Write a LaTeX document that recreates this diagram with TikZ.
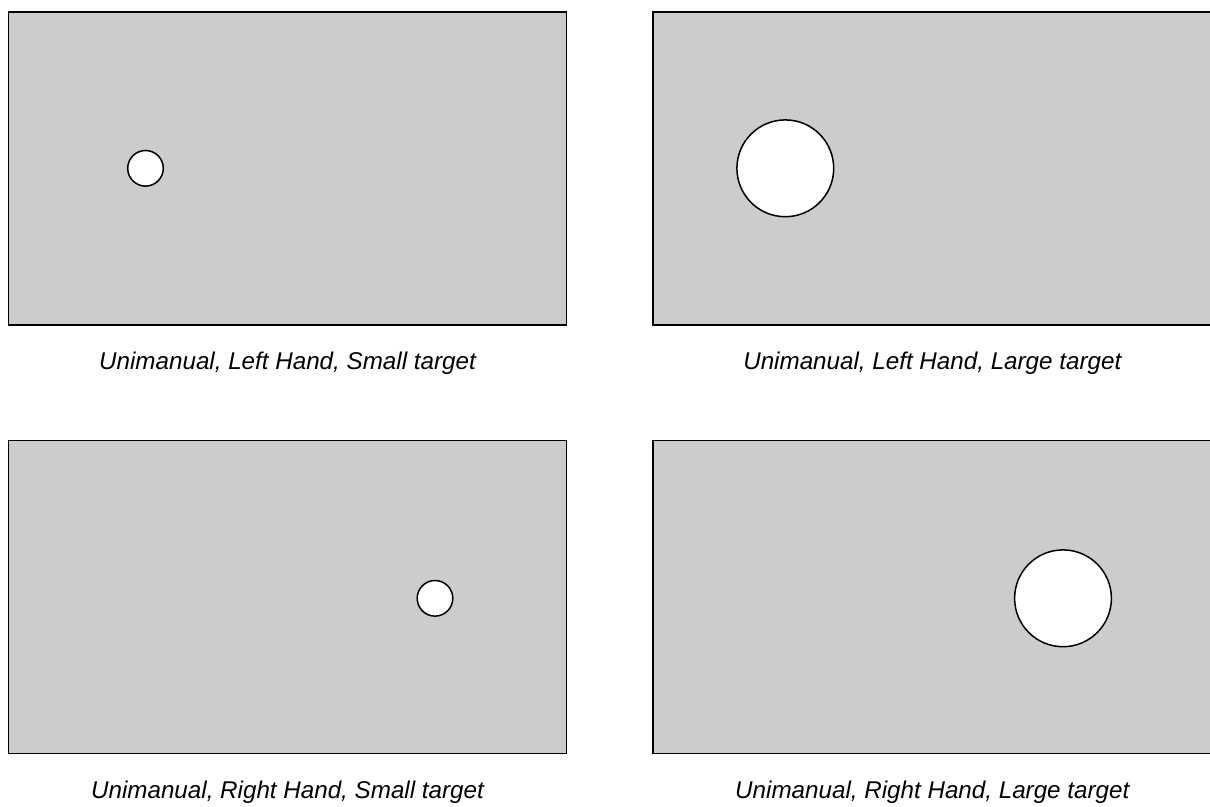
\documentclass[tikz,border=0pt]{standalone}
\usepackage{fontspec}
\setmainfont{Liberation Sans}
\definecolor{panelgray}{RGB}{204,204,204}
\tikzset{
  panel/.style={draw=black, fill=panelgray, line width=1.5pt},
  target/.style={draw=black, fill=white, line width=1.5pt},
  caption/.style={anchor=base, inner sep=0pt, font=\fontsize{24.2}{29}\selectfont\itshape}
}
\begin{document}
\begin{tikzpicture}[x=1pt,y=-1pt]
  \useasboundingbox (0,0) rectangle (1210,806);
  % left hand, small target
  \draw[panel] (8.5,12) rectangle (566.5,325);
  \draw[target] (145.5,168.3) circle (17.8);
  \node[caption] (capLS) at (287.5,369.3) {Unimanual, Left Hand, Small target};
  % left hand, large target
  \draw[panel] (653,12) rectangle (1211.5,325);
  \draw[target] (785.3,168.3) circle (48.4);
  \node[caption] (capLL) at (932.3,369.3) {Unimanual, Left Hand, Large target};
  % right hand, small target
  \draw[panel] (8.5,440.7) rectangle (566.5,753.7);
  \draw[target] (435,598.3) circle (17.8);
  \node[caption] (capRS) at (287.5,798) {Unimanual, Right Hand, Small target};
  % right hand, large target
  \draw[panel] (653,440.7) rectangle (1211.5,753.7);
  \draw[target] (1063,598.3) circle (48.4);
  \node[caption] (capRL) at (932.3,798) {Unimanual, Right Hand, Large target};
\end{tikzpicture}
\end{document}
